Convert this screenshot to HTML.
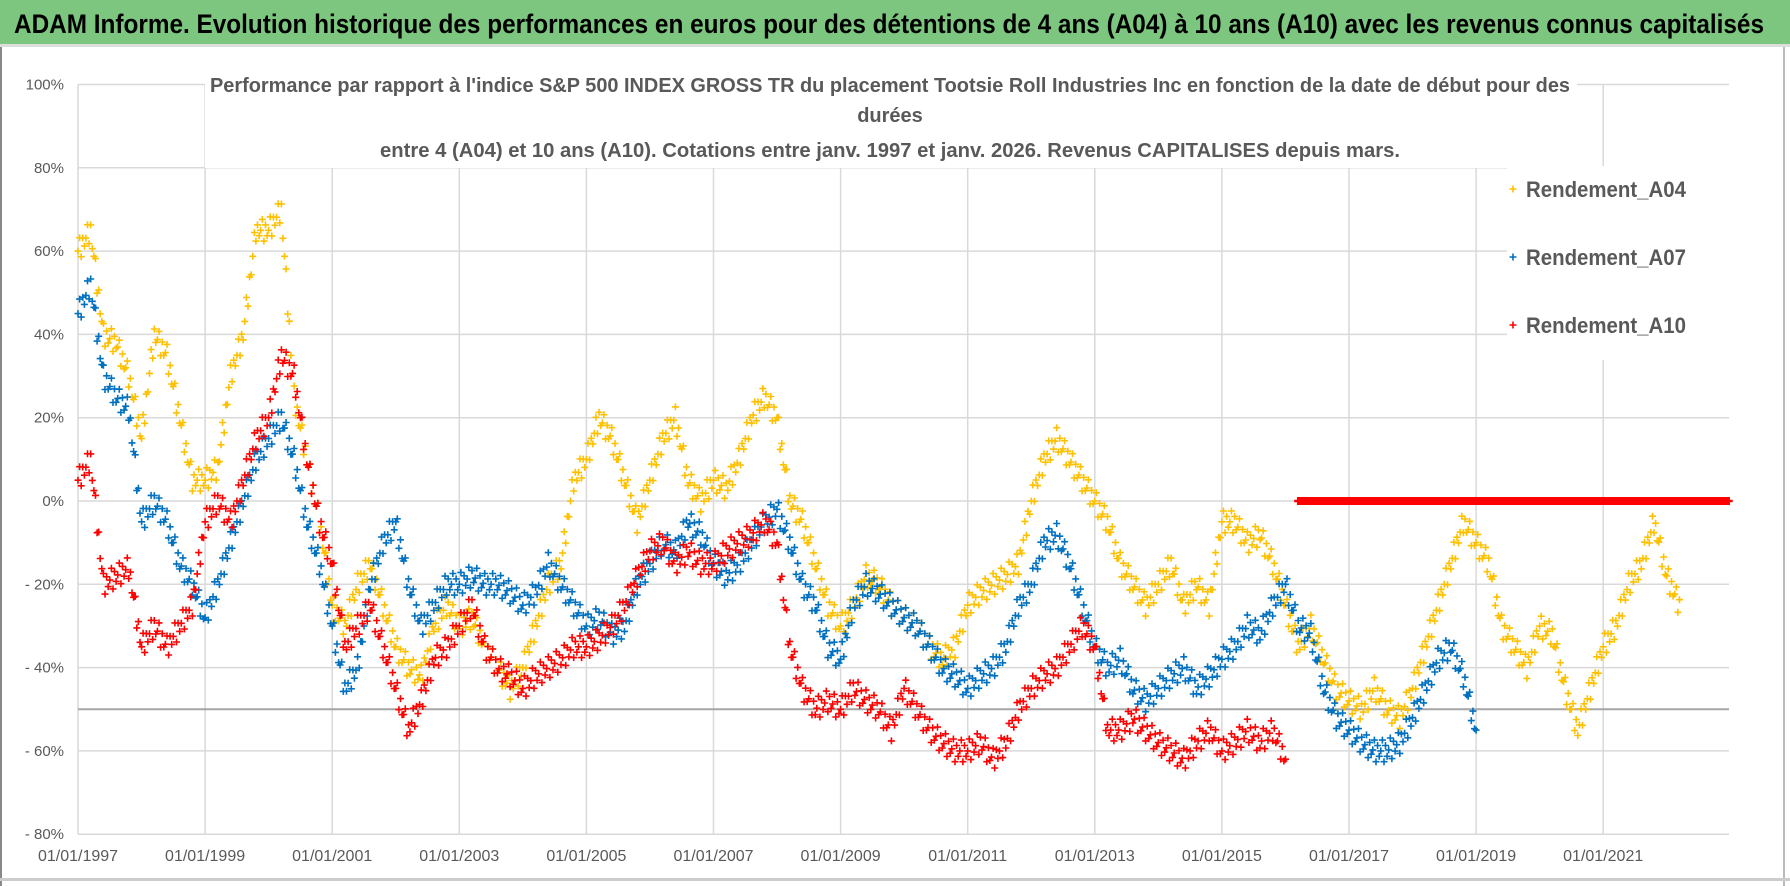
<!DOCTYPE html>
<html><head><meta charset="utf-8"><style>
html,body{margin:0;padding:0;background:#fff;width:1790px;height:886px;overflow:hidden}
svg{display:block;font-family:"Liberation Sans",sans-serif}
</style></head><body>
<svg id="chart" width="1790" height="886" viewBox="0 0 1790 886">
<rect x="0" y="0" width="1790" height="886" fill="#fff"/>
<rect x="0" y="0" width="1790" height="44" fill="#7dc67f"/>
<text x="14" y="33" font-size="27" font-weight="bold" fill="#000" textLength="1750" lengthAdjust="spacingAndGlyphs">ADAM Informe. Evolution historique des performances en euros pour des détentions de 4 ans (A04) à 10 ans (A10) avec les revenus connus capitalisés</text>
<rect x="0" y="44" width="2" height="842" fill="#888"/>
<rect x="1783" y="44" width="2" height="842" fill="#bbb"/>
<rect x="0" y="44" width="1790" height="3" fill="#ddd"/>
<rect x="0" y="878" width="1790" height="3" fill="#ccc"/>
<g id="grid"></g>
<g id="marks"></g>
<rect x="205" y="60" width="1372" height="108" fill="#fff"/>
<g fill="#595959" font-weight="bold" font-size="20" text-anchor="middle">
<text x="890" y="92" textLength="1360" lengthAdjust="spacingAndGlyphs">Performance par rapport à l'indice S&amp;P 500 INDEX GROSS TR  du placement Tootsie Roll Industries Inc en fonction de la date de début pour des</text>
<text x="890" y="122">durées</text>
<text x="890" y="157" textLength="1020" lengthAdjust="spacingAndGlyphs">entre 4 (A04) et 10 ans (A10).  Cotations entre janv. 1997 et janv. 2026. Revenus CAPITALISES depuis mars.</text>
</g>
<g id="legend">
<rect x="1507" y="166" width="222" height="194" fill="#fff"/>
</g>
<g id="yticks"></g>
<g id="xticks"></g>
</svg>
<script>
const yTickValues=[100,80,60,40,20,0,-20,-40,-60,-80];
const xTickYears=[1997,1999,2001,2003,2005,2007,2009,2011,2013,2015,2017,2019,2021];
const xTickLabels=["01/01/1997","01/01/1999","01/01/2001","01/01/2003","01/01/2005","01/01/2007","01/01/2009","01/01/2011","01/01/2013","01/01/2015","01/01/2017","01/01/2019","01/01/2021"];
const seriesNames=["Rendement_A04","Rendement_A07","Rendement_A10"];
const startYear=1997.0;
const stepYears=0.2;
const a04=[60,65,40,38,30,15,40,35,20,5,5,8,30,40,65,65,70,25,10,-5,-25,-30,-20,-15,-25,-35,-40,-42,-30,-25,-30,-28,-35,-40,-45,-40,-30,-20,-15,5,10,20,15,5,-5,5,15,20,5,0,5,3,10,20,25,20,0,-5,-15,-25,-30,-25,-18,-20,-25,-28,-30,-35,-38,-35,-25,-22,-20,-18,-15,0,10,15,10,5,0,-5,-15,-20,-25,-20,-15,-25,-20,-25,-5,-5,-10,-8,-15,-25,-35,-30,-38,-45,-48,-50,-45,-50,-52,-45,-35,-25,-15,-5,-10,-15,-30,-35,-40,-30,-32,-45,-55,-45,-35,-30,-20,-15,-5,-18,-25];
const a07=[45,52,30,25,22,-5,0,-5,-15,-20,-28,-20,-10,0,10,15,20,10,-5,-15,-30,-45,-40,-20,-10,-5,-20,-30,-25,-20,-20,-18,-20,-20,-22,-25,-22,-15,-20,-25,-30,-28,-32,-30,-20,-15,-10,-12,-5,-8,-15,-18,-15,-10,-5,-2,-10,-20,-25,-35,-38,-25,-20,-22,-25,-28,-30,-35,-40,-42,-45,-42,-40,-35,-25,-20,-10,-8,-15,-25,-35,-40,-38,-45,-48,-45,-42,-40,-45,-42,-38,-35,-30,-32,-25,-20,-30,-32,-45,-52,-55,-58,-60,-60,-58,-52,-45,-38,-35,-42,-55];
const a10=[5,10,-20,-18,-16,-35,-30,-35,-30,-25,-5,0,-5,5,15,20,35,30,10,-5,-15,-35,-30,-25,-35,-45,-55,-48,-38,-35,-30,-25,-35,-40,-42,-45,-42,-40,-38,-35,-35,-33,-30,-25,-18,-12,-10,-15,-12,-15,-15,-12,-10,-8,-5,-10,-35,-45,-50,-48,-50,-45,-48,-50,-55,-45,-50,-55,-58,-60,-60,-58,-62,-58,-50,-45,-42,-40,-35,-30,-35,-55,-55,-52,-55,-58,-60,-62,-58,-55,-60,-58,-55,-58,-55,-62];
const a10Flat=[0,0,0,0,0,0,0,0,0,0,0,0,0,0,0,0,0,0,0,0,0,0,0,0,0,0,0,0,0,0,0,0,0,0,0];
const a10FlatStart=2016.2;
const seriesColors=["#FFC000","#0070C0","#FF0000"];

const NS="http://www.w3.org/2000/svg";
const X0=78, PX_PER_YEAR=63.55, Y0=501, PX_PER_PCT=4.165, PLOT_RIGHT=1729;
function xs(yr){return X0+(yr-1997)*PX_PER_YEAR;}
function ys(v){return Y0-v*PX_PER_PCT;}
function mk(tag,attrs,parent){const e=document.createElementNS(NS,tag);for(const k in attrs)e.setAttribute(k,attrs[k]);parent.appendChild(e);return e;}

const grid=document.getElementById('grid');
yTickValues.forEach(v=>{
  const l=mk('line',{x1:X0,x2:PLOT_RIGHT,y1:ys(v),y2:ys(v),stroke:'#d9d9d9','stroke-width':1.5},grid);
  
  
});
xTickYears.forEach(yr=>{
  const l=mk('line',{x1:xs(yr),x2:xs(yr),y1:ys(100),y2:ys(-80),stroke:'#d9d9d9','stroke-width':1.5},grid);
  
  
});
const ref=mk('line',{x1:X0,x2:PLOT_RIGHT,y1:ys(-50),y2:ys(-50),stroke:'#a6a6a6','stroke-width':2},grid);



const yt=document.getElementById('yticks');
yTickValues.forEach(v=>{
  const t=mk('text',{x:64,y:ys(v)+5,'text-anchor':'end','font-size':15,fill:'#595959'},yt);
  t.textContent=(v<0?'- '+(-v):v)+'%';
  
  
});
const xt=document.getElementById('xticks');
xTickYears.forEach((yr,i)=>{
  const t=mk('text',{x:xs(yr),y:861,'text-anchor':'middle','font-size':16,fill:'#595959'},xt);
  t.textContent=xTickLabels[i];
  
  
});

function plusPath(x,y,s){return 'M'+(x-s)+' '+y+'h'+(2*s)+'M'+x+' '+(y-s)+'v'+(2*s);}
const marks=document.getElementById('marks');
const offs=[0,2.6,-2.6,1.3,-1.3];
function drawSeries(vals,start,color,name){
  let d='';
  for(let i=0;i<vals.length;i++){
    const n=(i<vals.length-1)?8:1;
    for(let k=0;k<n;k++){
      const t=k/8;
      const v=(i<vals.length-1)?vals[i]+(vals[i+1]-vals[i])*t:vals[i];
      const yr=start+(i+t)*stepYears;
      if(xs(yr)>PLOT_RIGHT)continue;
      const o=offs[(i*8+k)%offs.length];
      d+=plusPath(xs(yr).toFixed(1),ys(v+o).toFixed(1),3.5);
    }
  }
  const p=mk('path',{d:d,stroke:color,'stroke-width':1.6,fill:'none'},marks);
  
  
}
drawSeries(a04,startYear,seriesColors[0],'series-a04');
drawSeries(a07,startYear,seriesColors[1],'series-a07');
drawSeries(a10,startYear,seriesColors[2],'series-a10');
(function(){
  let d='';
  for(let i=0;i<a10Flat.length-1;i++){
    for(let k=0;k<8;k++){
      const t=k/8;const yr=a10FlatStart+(i+t)*stepYears;
      if(xs(yr)>PLOT_RIGHT)continue;
      const v=a10Flat[i]+(a10Flat[i+1]-a10Flat[i])*t;
      d+=plusPath(xs(yr).toFixed(1),ys(v).toFixed(1),4);
    }
  }
  const p=mk('path',{d:d,stroke:seriesColors[2],'stroke-width':2.5,fill:'none'},marks);
  
  
})();

const lg=document.getElementById('legend');
seriesNames.forEach((nm,i)=>{
  const y=197+i*68;
  const m=mk('path',{d:plusPath(1513,y-8,3.5),stroke:seriesColors[i],'stroke-width':1.6},lg);
  
  
  const t=mk('text',{x:1526,y:y,'font-size':22,'font-weight':'bold',fill:'#595959',textLength:160,lengthAdjust:'spacingAndGlyphs'},lg);
  t.textContent=nm;
  
  
});
</script>
</body></html>
